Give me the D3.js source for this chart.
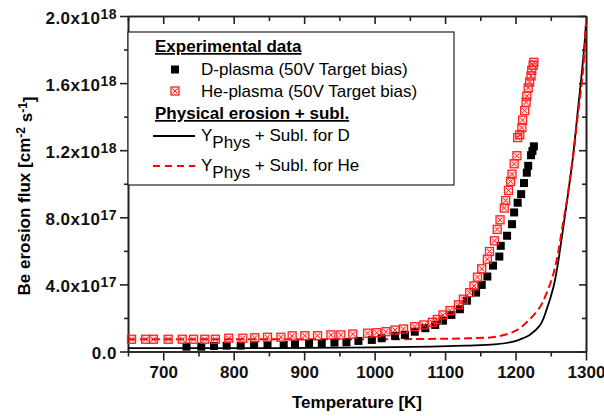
<!DOCTYPE html>
<html>
<head>
<meta charset="utf-8">
<script src="https://cdn.jsdelivr.net/npm/d3@7"></script>
<style>
  body { margin: 0; background: #fff; }
  svg { font-family: "Liberation Sans", Arial, sans-serif; }
  .axis path, .axis line { stroke: #222; stroke-width: 1.6; }
  .axis text { font-size: 17px; font-weight: bold; fill: #111; }
</style>
</head>
<body>
<div class="container"></div>
<script>
// values are in units of 1e17 cm^-2 s^-1
let dT = [733, 754, 772, 790, 810, 829, 848, 871, 887, 907, 925, 943, 960, 977, 996, 1010, 1029, 1043,
  1057, 1072, 1086, 1097, 1109, 1121, 1131, 1144, 1152, 1160, 1168, 1177, 1179, 1188, 1195, 1198,
  1203, 1208, 1212, 1216, 1218, 1222, 1224, 1226];
let dFlux = [0.29, 0.29, 0.33, 0.35, 0.35, 0.39, 0.39, 0.39, 0.43, 0.49, 0.49, 0.53, 0.55, 0.63, 0.69, 0.79, 0.93, 0.99,
  1.18, 1.39, 1.58, 1.84, 2.18, 2.52, 3.03, 3.51, 3.97, 4.47, 5.12, 5.66, 6.30, 6.90, 7.59, 8.29,
  8.87, 9.38, 10.04, 10.66, 11.07, 11.70, 11.95, 12.23];

let heT = [655, 675, 686, 707, 727, 743, 759, 774, 793, 813, 830, 848, 867, 883, 901, 919, 938, 952, 969, 990,
  1003, 1016, 1029, 1041, 1057, 1070, 1082, 1089, 1097, 1107, 1119, 1126, 1135, 1141, 1146, 1152, 1160,
  1163, 1170, 1174, 1178, 1184, 1186, 1190, 1193, 1195, 1198, 1202, 1203, 1206, 1209, 1210, 1213, 1215,
  1216, 1218, 1220, 1222, 1223, 1225, 1226];
let heFlux = [0.73, 0.73, 0.73, 0.73, 0.73, 0.73, 0.73, 0.73, 0.79, 0.79, 0.82, 0.85, 0.85, 0.93, 0.94, 0.94, 0.99, 0.99, 1.04, 1.09,
  1.12, 1.18, 1.28, 1.34, 1.48, 1.58, 1.74, 1.91, 2.18, 2.44, 2.78, 3.12, 3.51, 3.91, 4.43, 4.93, 5.50,
  5.96, 6.60, 7.28, 7.85, 8.55, 9.00, 9.60, 10.14, 10.57, 11.19, 11.67, 12.75, 12.92, 13.34, 13.79, 14.36, 14.85,
  15.22, 15.71, 16.06, 16.43, 16.76, 17.07, 17.24];

let physDT = [650, 850, 1000, 1080, 1130, 1170, 1197, 1210, 1220, 1235, 1244, 1254, 1260, 1265, 1270, 1276, 1281, 1289, 1294, 1298, 1300];
let physD = [0.20, 0.20, 0.24, 0.29, 0.35, 0.42, 0.59, 0.78, 0.99, 1.58, 2.48, 3.87, 5.2, 6.6, 8.05, 9.84, 11.43, 14.6, 16.6, 18.4, 19.6];

let physHeT = [650, 1000, 1100, 1140, 1173, 1202, 1220, 1235, 1244, 1254, 1260, 1266, 1273, 1279, 1283, 1287, 1294, 1297, 1300];
let physHe = [0.73, 0.73, 0.76, 0.80, 0.88, 1.28, 1.92, 2.67, 3.47, 4.67, 5.8, 7.3, 9.04, 10.84, 12.03, 13.6, 16.0, 17.4, 19.6];

let xTicks = [700, 800, 900, 1000, 1100, 1200, 1300];
let xMinor = [650, 750, 850, 950, 1050, 1150, 1250];
let yTicks = [0, 4, 8, 12, 16, 20];
let yMinor = [2, 6, 10, 14, 18];
let yTickLabels = [["0.0", ""], ["4.0x10", "17"], ["8.0x10", "17"], ["1.2x10", "18"], ["1.6x10", "18"], ["2.0x10", "18"]];

let W = 604, H = 416;
let pL = 128, pR = 586, pT = 16, pB = 351.5;

let svg = d3.select(".container").append("svg")
    .attr("width", W)
    .attr("height", H);

let x = d3.scaleLinear().domain([650, 1300]).range([pL, pR]);
let y = d3.scaleLinear().domain([0, 20]).range([pB, pT]);

// frame + axes
let gx = svg.append("g").attr("class", "axis")
    .attr("transform", "translate(0," + pB + ")")
    .call(d3.axisBottom(x).tickValues(xTicks).tickFormat(d3.format("d"))
      .tickSize(9).tickSizeOuter(0).tickPadding(5));
svg.append("g").attr("class", "axis")
    .attr("transform", "translate(0," + pB + ")")
    .call(d3.axisBottom(x).tickValues(xMinor).tickSize(5).tickFormat("").tickSizeOuter(0));
svg.append("g").attr("class", "axis")
    .attr("transform", "translate(0," + pT + ")")
    .call(d3.axisBottom(x).tickValues(xTicks).tickSize(8).tickFormat("").tickSizeOuter(0));
svg.append("g").attr("class", "axis")
    .attr("transform", "translate(0," + pT + ")")
    .call(d3.axisBottom(x).tickValues(xMinor).tickSize(5).tickFormat("").tickSizeOuter(0));

let gy = svg.append("g").attr("class", "axis")
    .attr("transform", "translate(" + pL + ",0)")
    .call(d3.axisLeft(y).tickValues(yTicks).tickSize(8).tickSizeOuter(0).tickPadding(3));
svg.append("g").attr("class", "axis")
    .attr("transform", "translate(" + pL + ",0)")
    .call(d3.axisLeft(y).tickValues(yMinor).tickSize(4).tickFormat("").tickSizeOuter(0));
svg.append("g").attr("class", "axis")
    .attr("transform", "translate(" + pR + ",0)")
    .call(d3.axisLeft(y).tickValues(yTicks).tickSize(7).tickFormat("").tickSizeOuter(0));
svg.append("g").attr("class", "axis")
    .attr("transform", "translate(" + pR + ",0)")
    .call(d3.axisLeft(y).tickValues(yMinor).tickSize(4).tickFormat("").tickSizeOuter(0));

gy.selectAll(".tick text").each(function(d, i) {
  let t = d3.select(this).text(null).attr("dy", "0.42em").style("letter-spacing", "0.5px");
  t.append("tspan").text(yTickLabels[i][0]);
  if (yTickLabels[i][1]) {
    t.append("tspan").text(yTickLabels[i][1])
      .attr("dy", "-0.36em")
      .style("font-size", "14px");
  }
});

// axis titles
svg.append("text")
  .text("Temperature [K]")
  .attr("x", (pL + pR) / 2)
  .attr("y", 408)
  .attr("text-anchor", "middle")
  .style("font-size", "17px")
  .style("font-weight", "bold");

let yl = svg.append("text")
  .attr("transform", "translate(30,196) rotate(-90)")
  .attr("text-anchor", "middle")
  .style("font-size", "17px")
  .style("font-weight", "bold");
yl.append("tspan").text("Be erosion flux [cm");
yl.append("tspan").text("-2").attr("dy", "-0.45em").style("font-size", "12px");
yl.append("tspan").text(" s").attr("dy", "0.45em");
yl.append("tspan").text("-1").attr("dy", "-0.45em").style("font-size", "12px");
yl.append("tspan").text("]").attr("dy", "0.45em");

// model curves
let line = d3.line().x(d => x(d[0])).y(d => y(d[1])).curve(d3.curveCatmullRom.alpha(0.5));

svg.append("path")
  .datum(physDT.map((t, i) => [t, physD[i]]))
  .attr("d", line)
  .attr("fill", "none")
  .attr("stroke", "#000")
  .attr("stroke-width", 1.8);

svg.append("path")
  .datum(physHeT.map((t, i) => [t, physHe[i]]))
  .attr("d", line)
  .attr("fill", "none")
  .attr("stroke", "#f00")
  .attr("stroke-width", 2)
  .attr("stroke-dasharray", "8,4");

// markers
let drawD = (g, cx, cy) => {
  g.append("rect")
    .attr("x", cx - 4).attr("y", cy - 4)
    .attr("width", 8).attr("height", 8)
    .attr("fill", "#000");
}
let drawHe = (g, cx, cy) => {
  g.append("rect")
    .attr("x", cx - 4).attr("y", cy - 4)
    .attr("width", 8).attr("height", 8)
    .attr("fill", "rgba(255,0,0,0.12)")
    .attr("stroke", "#f22")
    .attr("stroke-width", 1.3);
  g.append("path")
    .attr("d", "M" + (cx - 2.5) + "," + (cy - 2.5) + "L" + (cx + 2.5) + "," + (cy + 2.5) +
               "M" + (cx + 2.5) + "," + (cy - 2.5) + "L" + (cx - 2.5) + "," + (cy + 2.5))
    .attr("stroke", "#f22")
    .attr("stroke-width", 1);
}

let dots = svg.append("g");
dT.forEach((t, i) => drawD(dots, x(t), y(dFlux[i])));
heT.forEach((t, i) => drawHe(dots, x(t), y(heFlux[i])));

// legend
let lg = svg.append("g");
lg.append("rect")
  .attr("x", pL).attr("y", 32)
  .attr("width", 326).attr("height", 153)
  .attr("fill", "#fff")
  .attr("stroke", "#222")
  .attr("stroke-width", 1.2);

let head = (txt, yy) => {
  lg.append("text").text(txt)
    .attr("x", 155).attr("y", yy)
    .style("font-size", "17px")
    .style("font-weight", "bold")
    .style("text-decoration", "underline");
}
head("Experimental data", 52);
head("Physical erosion + subl.", 119);

drawD(lg, 175, 69.5);
drawHe(lg, 175, 91);
lg.append("text").text("D-plasma (50V Target bias)")
  .attr("x", 201).attr("y", 75).style("font-size", "17px");
lg.append("text").text("He-plasma (50V Target bias)")
  .attr("x", 201).attr("y", 97).style("font-size", "17px");

lg.append("line")
  .attr("x1", 153).attr("x2", 195).attr("y1", 136).attr("y2", 136)
  .attr("stroke", "#000").attr("stroke-width", 1.8);
lg.append("line")
  .attr("x1", 153).attr("x2", 195).attr("y1", 166).attr("y2", 166)
  .attr("stroke", "#f00").attr("stroke-width", 2).attr("stroke-dasharray", "7,5");

let phys = (label, yy) => {
  let t = lg.append("text").attr("x", 201).attr("y", yy).style("font-size", "17px");
  t.append("tspan").text("Y");
  t.append("tspan").text("Phys").attr("dy", "0.4em");
  t.append("tspan").text(" + Subl. for " + label).attr("dy", "-0.4em");
}
phys("D", 141);
phys("He", 171);
</script>
</body>
</html>
